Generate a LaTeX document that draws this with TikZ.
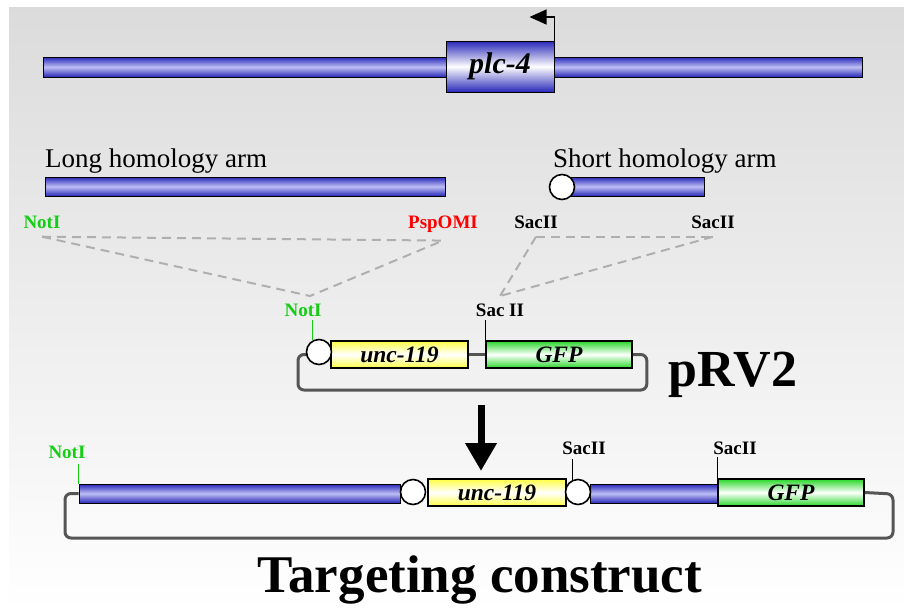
\documentclass[tikz,border=0pt]{standalone}
\usepackage{fontspec}
\setmainfont{Liberation Serif}
\usetikzlibrary{shapes,arrows,arrows.meta,backgrounds,positioning,fit}

\definecolor{armblue}{RGB}{40,40,185}
\definecolor{armlight}{RGB}{190,190,245}
\definecolor{cutgreen}{RGB}{20,205,20}
\definecolor{gfpgreen}{RGB}{40,215,40}
\definecolor{uncyellow}{RGB}{255,255,70}
\definecolor{loopgray}{RGB}{85,85,85}
\definecolor{cutgray}{RGB}{175,175,175}

\begin{document}
\begin{tikzpicture}[x=1pt,y=-1pt]
		\tikzstyle{Arm}		= [rectangle, draw=black, line width=1pt, inner sep=0pt, minimum height=19pt, top color=armblue, bottom color=armblue, middle color=armlight]
		\tikzstyle{Gene}	= [rectangle, draw=black, line width=1.6pt, inner sep=0pt, minimum height=27pt, font=\fontsize{23.5}{25}\selectfont\bfseries\itshape]
		\tikzstyle{Unc}		= [Gene, top color=uncyellow, bottom color=uncyellow, middle color=white]
		\tikzstyle{Gfp}		= [Gene, top color=gfpgreen, bottom color=gfpgreen, middle color=white]
		\tikzstyle{Joint}	= [circle, draw=black, line width=1.6pt, fill=white, minimum size=25pt, inner sep=0pt]
		\tikzstyle{Site}	= [anchor=base, font=\fontsize{19}{21}\selectfont\bfseries]
		\tikzstyle{Title}	= [font=\fontsize{27}{30}\selectfont, anchor=base west, inner sep=0pt]
		\tikzstyle{Cut}		= [cutgray, line width=2pt, dash pattern=on 9pt off 6pt]
		\tikzstyle{Loop}	= [loopgray, line width=3pt, rounded corners=6pt]
		\tikzstyle{Tick}	= [line width=1pt]

		% background
		\useasboundingbox (0,0) rectangle (904,611);
		\shade[top color=black!14, bottom color=white] (9,7) rectangle (904,611);

		% genomic locus
		\node (chr) at (452.5,67) [Arm, minimum width=819pt, minimum height=20pt] {};
		\node (plc) at (500,66.5) [Arm, minimum width=108pt, minimum height=51pt, middle color=white, font=\fontsize{30}{32}\selectfont\bfseries\itshape] {plc-4};
		\coordinate (tss) at (553,17);
		\draw [line width=1.2pt, -{Triangle[width=15pt,length=17pt]}] (plc.north east) -- (plc.north east |- tss) -- ++(-25,0);

		% homology arms
		\node (long) at (245,186.5) [Arm, minimum width=400pt] {};
		\node (short) at (633.5,186.5) [Arm, minimum width=141pt] {};
		\node (sc) at (562,187) [Joint] {};
		\node (tl) at (45,167) [Title] {Long homology arm};
		\node (ts) at (553,167) [Title] {Short homology arm};

		\node (n1) at (42,228) [Site, cutgreen] {NotI};
		\node (n2) at (443,228) [Site, red] {PspOMI};
		\node (n3) at (536,228) [Site] {SacII};
		\node (n4) at (713,228) [Site] {SacII};

		% pRV2
		\node (u1) at (399.5,354.5) [Unc, minimum width=137pt] {unc-119};
		\node (g1) at (559,354.5) [Gfp, minimum width=146pt] {GFP};
		\node (m1) at (303,316) [Site, cutgreen] {NotI};
		\node (m2) at (500,316) [Site] {Sac II};
		\node (pv) at (733,386) [anchor=base, font=\fontsize{52}{56}\selectfont\bfseries] {pRV2};

		\coordinate (p1) at (310,296);
		\coordinate (p2) at (500,296);
		\draw [Cut] ([yshift=-5pt]n1.south) -- ([yshift=-5pt]n2.south);
		\draw [Cut] ([yshift=-5pt]n1.south) -- (p1) -- ([yshift=-5pt]n2.south);
		\draw [Cut] ([yshift=-5pt]n3.south) -- ([yshift=-5pt]n4.south);
		\draw [Cut] ([yshift=-5pt]n3.south) -- (p2);
		\draw [Cut] ([yshift=-5pt]n4.south) -- (p2);

		\draw [Loop] (u1.east) -- (g1.west);
		\draw [Loop] (u1.west) -| (298,390) -| ([xshift=14pt]g1.east) -- (g1.east);
		\node (c1) at (319,352) [Joint] {};
		\draw [Tick, cutgreen] (312,320) -- (312,340);
		\draw [Tick] (g1.north west) -- ++(0,-20);

		% arrow
		\coordinate (a1) at (481,405);
		\coordinate (a2) at (481,471);
		\draw [line width=7pt, -{Triangle[width=30pt,length=28pt]}] (a1) -- (a2);

		% targeting construct
		\node (b1) at (239.5,493.5) [Arm, minimum width=321pt] {};
		\node (b2) at (654,493.5) [Arm, minimum width=128pt] {};
		\node (u2) at (497,492.5) [Unc, minimum width=138pt] {unc-119};
		\node (g2) at (791,492.5) [Gfp, minimum width=146pt] {GFP};
		\node (c2) at (413,492) [Joint] {};
		\node (c3) at (578,492) [Joint] {};
		\node (k1) at (67,458) [Site, cutgreen] {NotI};
		\node (k2) at (584,454) [Site] {SacII};
		\node (k3) at (735,454) [Site] {SacII};

		\draw [Loop] (b1.west) -| (65,538) -| (893,494) -- (g2.east);
		\draw [Tick, cutgreen] (b1.north west) -- ++(0,-20);
		\draw [Tick] (572,459) -- (572,481);
		\draw [Tick] (g2.north west) -- ++(0,-21);

		\node (tc) at (480,592) [anchor=base, font=\fontsize{53}{56}\selectfont\bfseries] {Targeting construct};
	\end{tikzpicture}
\end{document}
